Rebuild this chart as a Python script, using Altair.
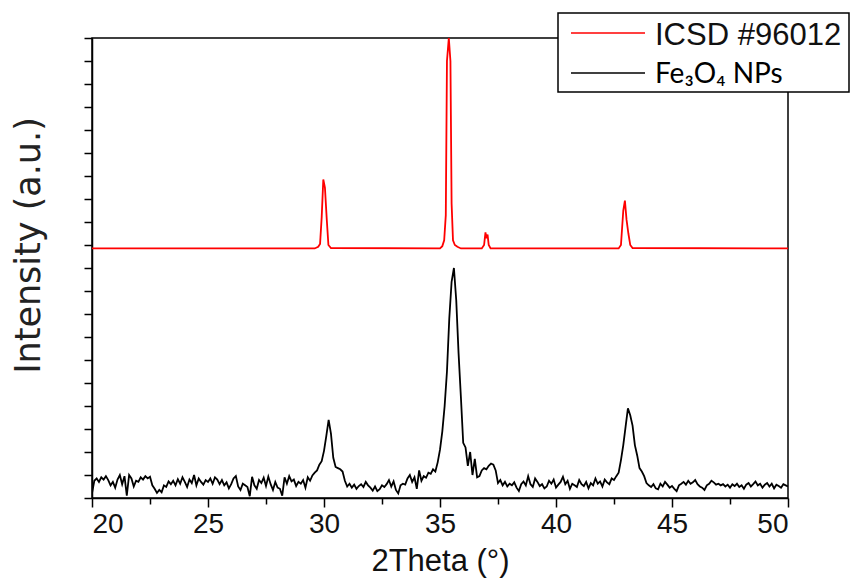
import altair as alt
import pandas as pd

# ---------------- data ----------------
two_theta_start = 20.0
two_theta_step = 0.1

# Fe3O4 NPs measured pattern (intensity in axis-tick units), 20.0 .. 50.0 step 0.1
fe3o4_intensity = [
    0.20, 0.75, 0.85, 0.70, 0.90, 0.80, 0.95, 0.78, 0.55, 0.70,  # 20
    0.45, 0.80, 1.00, 0.60, 0.95, 0.10, 1.00, 0.85, 0.50, 0.75,  # 21
    0.70, 0.90, 0.80, 0.95, 0.85, 0.92, 0.55, 0.40, 0.22, 0.35,  # 22
    0.25, 0.55, 0.48, 0.72, 0.60, 0.75, 0.55, 0.82, 0.62, 0.90,  # 23
    0.70, 0.48, 0.80, 0.65, 1.00, 0.55, 0.85, 0.70, 0.58, 0.78,  # 24
    0.70, 0.85, 0.62, 0.90, 0.80, 0.60, 0.78, 0.55, 0.68, 0.42,  # 25
    0.60, 0.85, 0.95, 0.50, 0.35, 0.62, 0.55, 0.48, 0.08, 0.92,  # 26
    0.55, 0.40, 0.78, 0.65, 0.88, 0.52, 0.93, 0.60, 0.35, 0.70,  # 27
    0.45, 0.40, 0.10, 0.90, 0.62, 0.95, 0.72, 0.80, 0.52, 0.70,  # 28
    0.62, 0.78, 0.45, 0.90, 0.75, 0.98, 1.10, 1.20, 1.45, 1.60,  # 29
    2.05, 2.70, 3.40, 2.80, 1.75, 1.35, 1.30, 1.25, 1.15, 0.75,  # 30
    0.50, 0.62, 0.45, 0.58, 0.40, 0.52, 0.60, 0.48, 0.70, 0.55,  # 31
    0.45, 0.32, 0.50, 0.30, 0.38, 0.55, 0.48, 0.60, 0.78, 0.50,  # 32
    0.72, 0.35, 0.20, 0.55, 0.62, 0.58, 0.85, 1.00, 0.70, 0.90,  # 33
    0.40, 1.20, 0.75, 0.95, 0.88, 1.10, 1.05, 1.25, 1.15, 1.55,  # 34
    2.10, 2.90, 4.00, 5.50, 7.80, 9.40, 10.00, 8.60, 6.30, 4.40,  # 35
    2.40, 2.20, 1.40, 2.00, 1.00, 1.70, 0.90, 0.95, 1.20, 1.30,  # 36
    1.25, 1.40, 1.50, 1.45, 1.20, 0.65, 0.78, 0.55, 0.70, 0.50,  # 37
    0.62, 0.55, 0.68, 0.45, 0.30, 0.60, 0.72, 0.55, 0.95, 0.60,  # 38
    0.48, 0.85, 0.70, 0.52, 0.60, 0.42, 0.50, 0.75, 0.62, 0.80,  # 39
    0.45, 0.58, 0.70, 0.92, 0.60, 0.75, 0.40, 0.62, 0.55, 0.48,  # 40
    0.78, 0.60, 0.52, 0.70, 0.42, 0.65, 0.55, 0.85, 0.62, 0.72,  # 41
    0.50, 0.80, 0.68, 0.60, 0.85, 0.78, 0.95, 1.10, 1.65, 2.30,  # 42
    3.10, 3.90, 3.60, 3.15, 2.30, 1.85, 1.30, 1.15, 0.95, 0.65,  # 43
    0.55, 0.48, 0.60, 0.42, 0.38, 0.62, 0.50, 0.70, 0.58, 0.45,  # 44
    0.52, 0.40, 0.30, 0.55, 0.62, 0.70, 0.58, 0.75, 0.62, 0.68,  # 45
    0.78, 0.60, 0.50, 0.45, 0.35, 0.55, 0.62, 0.75, 0.68, 0.58,  # 46
    0.62, 0.55, 0.60, 0.50, 0.58, 0.45, 0.60, 0.52, 0.62, 0.48,  # 47
    0.55, 0.40, 0.58, 0.65, 0.50, 0.60, 0.72, 0.55, 0.62, 0.45,  # 48
    0.58, 0.65, 0.50, 0.62, 0.42, 0.58, 0.52, 0.45, 0.60, 0.55,  # 49
    0.50,                                                        # 50
]
fe3o4_two_theta = [round(two_theta_start + i * two_theta_step, 2)
                   for i in range(len(fe3o4_intensity))]

# ICSD #96012 reference pattern
icsd_two_theta = [20.0, 29.6, 29.75, 29.83, 29.9, 29.97, 30.04, 30.12, 30.19, 30.3,
                  35.0, 35.1, 35.18, 35.25, 35.3, 35.38, 35.45, 35.5, 35.56, 35.64, 35.75, 35.9,
                  36.8, 36.9, 36.96, 37.0, 37.05, 37.1, 37.18,
                  42.7, 42.8, 42.9, 42.97, 43.04, 43.12, 43.2, 43.3, 50.0]
icsd_intensity = [10.85, 10.85, 10.92, 11.05, 12.2, 13.85, 13.5, 12.1, 11.0, 10.87,
                  10.85, 10.95, 11.2, 12.3, 19.0, 20.0, 19.0, 12.8, 11.2, 11.0, 10.92, 10.85,
                  10.85, 11.0, 11.55, 11.3, 11.45, 11.0, 10.85,
                  10.85, 11.0, 12.5, 12.93, 12.1, 11.5, 11.0, 10.87, 10.85]

series_names = ["ICSD #96012", "Fe\u2083O\u2084 NPs"]
series_colors = ["#ff0000", "#000000"]

x_ticks = [20, 22.5, 25, 27.5, 30, 32.5, 35, 37.5, 40, 42.5, 45, 47.5, 50]
y_ticks = list(range(0, 21))

# ---------------- chart ----------------
df_black = pd.DataFrame({"two_theta": fe3o4_two_theta, "intensity": fe3o4_intensity})
df_red = pd.DataFrame({"two_theta": icsd_two_theta, "intensity": icsd_intensity})

W, H = 696, 460
AX_FONT = "Liberation Sans Narrow, Arial Narrow, Liberation Sans, Arial"

x_scale = alt.Scale(domain=[20, 50], nice=False, zero=False)
y_scale = alt.Scale(domain=[0, 20], nice=False, zero=True)

x_axis = alt.Axis(
    values=x_ticks, tickCount=40,
    labelExpr="datum.value % 5 === 0 ? datum.label : ''",
    tickSize={"condition": {"test": "datum.value % 5 === 0", "value": 9}, "value": 6},
    tickColor="black", tickWidth=1.5, domainColor="black", domainWidth=1.5,
    labelFont=AX_FONT, labelFontSize=28, labelColor="#111", labelPadding=3,
    grid=False,
    title="2Theta (°)", titleFont="Liberation Sans", titleFontSize=31,
    titleFontWeight="normal", titleColor="#111",
    titleX=W / 2, titleY=72, titleBaseline="alphabetic", titleAlign="center",
)
y_axis = alt.Axis(
    values=y_ticks, tickCount=60, labels=False,
    tickSize=8, tickColor="black", tickWidth=1.5, domainColor="black", domainWidth=1.5,
    grid=False,
    title="Intensity (a.u.)", titleFont="DejaVu Sans", titleFontSize=35,
    titleFontWeight="normal", titleColor="#222",
    titleX=-64, titleY=207, titleAngle=-90, titleBaseline="middle", titleAlign="center",
)

black_line = alt.Chart(df_black).mark_line(
    color=series_colors[1], strokeWidth=1.8, clip=True, interpolate="linear"
).encode(
    x=alt.X("two_theta:Q", scale=x_scale, axis=x_axis),
    y=alt.Y("intensity:Q", scale=y_scale, axis=y_axis),
)
red_line = alt.Chart(df_red).mark_line(
    color=series_colors[0], strokeWidth=1.8, clip=True
).encode(
    x=alt.X("two_theta:Q", scale=x_scale, axis=x_axis),
    y=alt.Y("intensity:Q", scale=y_scale, axis=y_axis),
)

# ---- legend box (top right, overlapping the frame) ----
one = pd.DataFrame({"k": [0]})
legend_box = alt.Chart(one).mark_rect(
    fill="white", stroke="black", strokeWidth=1.5
).encode(x=alt.value(466), x2=alt.value(757), y=alt.value(-25), y2=alt.value(54))

leg_red = alt.Chart(one).mark_rule(color=series_colors[0], strokeWidth=1.6).encode(
    x=alt.value(479), x2=alt.value(553), y=alt.value(-5))
leg_black = alt.Chart(one).mark_rule(color=series_colors[1], strokeWidth=1.6).encode(
    x=alt.value(479), x2=alt.value(553), y=alt.value(35))
leg_txt1 = alt.Chart(one).mark_text(
    align="left", baseline="alphabetic", font="Liberation Sans", fontSize=31, color="#111"
).encode(x=alt.value(563), y=alt.value(7), text=alt.value(series_names[0]))
leg_txt2 = alt.Chart(one).mark_text(
    align="left", baseline="alphabetic", font="Lato, Open Sans, sans-serif", fontSize=28, color="#000"
).encode(x=alt.value(563), y=alt.value(45), text=alt.value(series_names[1]))

chart = alt.layer(
    black_line, red_line, legend_box, leg_red, leg_black, leg_txt1, leg_txt2
).properties(
    width=W, height=H,
    background="white",
    autosize=alt.AutoSizeParams(type="none"),
    padding={"left": 84, "top": 30, "right": 63, "bottom": 80},
).configure_view(
    stroke="black", strokeWidth=1.5
)

chart.save("out.html", embed_options={"renderer": "svg", "actions": False})
